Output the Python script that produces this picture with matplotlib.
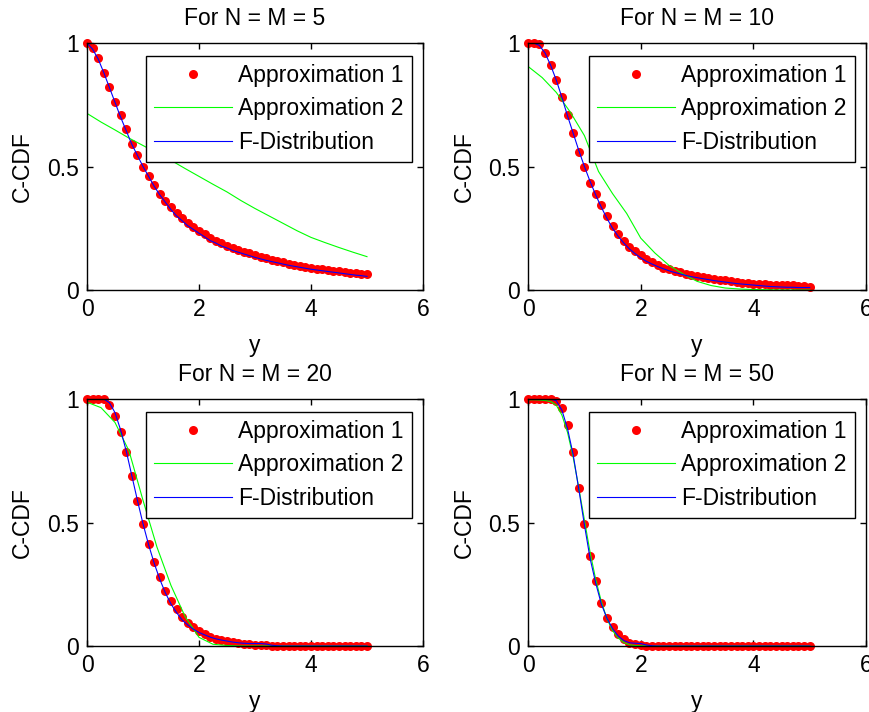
import numpy as np
import matplotlib
matplotlib.use('Agg')
import matplotlib.pyplot as plt

plt.rcParams['font.family'] = ['Liberation Sans', 'DejaVu Sans']
plt.rcParams['font.size'] = 16.5

# grids of y values (0 to 5)
y_fine = np.linspace(0, 5, 51)     # step 0.1
y_coarse = np.linspace(0, 5, 21)   # step 0.25

# ---- N = M = 5 ----
a1_5 = [1.0, 0.98, 0.94, 0.88, 0.82, 0.76, 0.71, 0.65, 0.59, 0.545,
        0.50, 0.46, 0.425, 0.39, 0.36, 0.335, 0.31, 0.29, 0.27, 0.255,
        0.24, 0.225, 0.21, 0.20, 0.19, 0.18, 0.17, 0.162, 0.155, 0.148,
        0.14, 0.134, 0.128, 0.122, 0.117, 0.112, 0.107, 0.102, 0.098, 0.094,
        0.09, 0.087, 0.084, 0.081, 0.078, 0.075, 0.072, 0.07, 0.068, 0.066, 0.063]
f_5 = [1.0, 0.975, 0.935, 0.88, 0.82, 0.76, 0.70, 0.645, 0.59, 0.545,
       0.50, 0.46, 0.42, 0.385, 0.355, 0.325, 0.30, 0.28, 0.26, 0.245,
       0.23, 0.215, 0.20, 0.19, 0.178, 0.17, 0.16, 0.153, 0.146, 0.139,
       0.132, 0.126, 0.12, 0.115, 0.11, 0.105, 0.10, 0.096, 0.092, 0.088,
       0.084, 0.081, 0.078, 0.075, 0.072, 0.069, 0.066, 0.063, 0.06, 0.058, 0.055]
g_5 = [0.715, 0.68, 0.648, 0.615, 0.585, 0.555, 0.525, 0.492, 0.46, 0.428,
       0.397, 0.362, 0.33, 0.30, 0.27, 0.24, 0.213, 0.192, 0.172, 0.153, 0.135]

# ---- N = M = 10 ----
a1_10 = [1.0, 1.0, 0.995, 0.96, 0.91, 0.85, 0.78, 0.71, 0.635, 0.56,
         0.497, 0.435, 0.39, 0.345, 0.30, 0.26, 0.227, 0.20, 0.175, 0.157,
         0.14, 0.126, 0.112, 0.10, 0.09, 0.083, 0.077, 0.071, 0.066, 0.061,
         0.056, 0.052, 0.048, 0.045, 0.042, 0.039, 0.036, 0.033, 0.03, 0.028,
         0.026, 0.024, 0.023, 0.022, 0.021, 0.02, 0.02, 0.019, 0.018, 0.017, 0.014]
f_10 = [1.0, 1.0, 0.99, 0.96, 0.91, 0.85, 0.78, 0.705, 0.635, 0.565,
        0.50, 0.44, 0.385, 0.335, 0.29, 0.25, 0.217, 0.19, 0.166, 0.147,
        0.13, 0.116, 0.105, 0.095, 0.086, 0.078, 0.071, 0.065, 0.059, 0.054,
        0.05, 0.046, 0.042, 0.038, 0.035, 0.032, 0.029, 0.026, 0.024, 0.022,
        0.02, 0.018, 0.016, 0.014, 0.013, 0.012, 0.011, 0.011, 0.01, 0.01, 0.01]
g_10 = [0.905, 0.86, 0.80, 0.72, 0.625, 0.48, 0.39, 0.31, 0.21, 0.15,
        0.10, 0.065, 0.035, 0.018, 0.008, 0.004, 0.002, 0.001, 0.0, 0.0, 0.0]

# ---- N = M = 20 ----
a1_20 = [1.0, 1.0, 1.0, 1.0, 0.976, 0.93, 0.865, 0.786, 0.69, 0.588,
         0.495, 0.413, 0.339, 0.278, 0.224, 0.183, 0.149, 0.119, 0.095, 0.075,
         0.06, 0.047, 0.038, 0.03, 0.024, 0.019, 0.015, 0.012, 0.009, 0.007,
         0.005, 0.004, 0.003, 0.002, 0.001, 0.001, 0.0, 0.0, 0.0, 0.0,
         0.0, 0.0, 0.0, 0.0, 0.0, 0.0, 0.0, 0.0, 0.0, 0.0, 0.0]
f_20 = [1.0, 1.0, 1.0, 1.0, 0.985, 0.945, 0.875, 0.79, 0.69, 0.59,
        0.495, 0.41, 0.335, 0.27, 0.215, 0.17, 0.135, 0.105, 0.085, 0.068,
        0.055, 0.045, 0.036, 0.029, 0.024, 0.02, 0.016, 0.013, 0.011, 0.01,
        0.01, 0.01, 0.008, 0.003, 0.001, 0.0, 0.0, 0.0, 0.0, 0.0,
        0.0, 0.0, 0.0, 0.0, 0.0, 0.0, 0.0, 0.0, 0.0, 0.0, 0.0]
g_20 = [0.987, 0.965, 0.905, 0.79, 0.59, 0.40, 0.245, 0.12, 0.035, 0.007,
        0.002, 0.0, 0.0, 0.0, 0.0, 0.0, 0.0, 0.0, 0.0, 0.0, 0.0]

# ---- N = M = 50 ----
a1_50 = [1.0, 1.0, 1.0, 1.0, 1.0, 0.99, 0.962, 0.894, 0.786, 0.64,
         0.495, 0.363, 0.262, 0.173, 0.115, 0.075, 0.047, 0.027, 0.014, 0.007,
         0.004, 0.002, 0.0, 0.0, 0.0, 0.0, 0.0, 0.0, 0.0, 0.0,
         0.0, 0.0, 0.0, 0.0, 0.0, 0.0, 0.0, 0.0, 0.0, 0.0,
         0.0, 0.0, 0.0, 0.0, 0.0, 0.0, 0.0, 0.0, 0.0, 0.0, 0.0]
f_50 = [1.0, 1.0, 1.0, 1.0, 1.0, 0.993, 0.955, 0.88, 0.775, 0.635,
        0.49, 0.355, 0.255, 0.17, 0.112, 0.07, 0.04, 0.022, 0.013, 0.011,
        0.01, 0.004, 0.001, 0.0, 0.0, 0.0, 0.0, 0.0, 0.0, 0.0,
        0.0, 0.0, 0.0, 0.0, 0.0, 0.0, 0.0, 0.0, 0.0, 0.0,
        0.0, 0.0, 0.0, 0.0, 0.0, 0.0, 0.0, 0.0, 0.0, 0.0, 0.0]
g_50 = [0.997, 0.997, 0.996, 0.994, 0.99, 0.975, 0.935, 0.865, 0.765, 0.64,
        0.51, 0.38, 0.27, 0.18, 0.11, 0.062, 0.032, 0.014, 0.005, 0.002,
        0.001, 0.0, 0.0, 0.0, 0.0, 0.0, 0.0, 0.0, 0.0, 0.0,
        0.0, 0.0, 0.0, 0.0, 0.0, 0.0, 0.0, 0.0, 0.0, 0.0,
        0.0, 0.0, 0.0, 0.0, 0.0, 0.0, 0.0, 0.0, 0.0, 0.0, 0.0]

titles = ['For N = M = 5', 'For N = M = 10', 'For N = M = 20', 'For N = M = 50']
paneles = [(a1_5, y_coarse, g_5, f_5),
           (a1_10, y_coarse, g_10, f_10),
           (a1_20, y_coarse, g_20, f_20),
           (a1_50, y_fine, g_50, f_50)]

# posiciones de los ejes (fraccion de la figura)
posiciones = [[0.100, 0.5927, 0.3862, 0.3469],
              [0.607, 0.5927, 0.3885, 0.3469],
              [0.100, 0.0927, 0.3862, 0.3469],
              [0.607, 0.0927, 0.3885, 0.3469]]

fig = plt.figure(figsize=(8.7, 7.12), dpi=100)

for pos, titulo, (a1, gx, g, f) in zip(posiciones, titles, paneles):
    ax = fig.add_axes(pos)
    ax.plot(y_fine, a1, 'o', color=(1, 0, 0), markersize=6.5, markeredgewidth=0,
            clip_on=False, label='Approximation 1')
    ax.plot(gx, g, '-', color=(0, 1, 0), lw=0.8, label='Approximation 2')
    ax.plot(y_fine, f, '-', color=(0, 0, 1), lw=0.8, label='F-Distribution')

    ax.set_xlim(0, 6)
    ax.set_ylim(0, 1)
    ax.set_xticks([0, 2, 4, 6])
    ax.set_xticklabels(['0', '2', '4', '6'])
    ax.set_yticks([0, 0.5, 1])
    ax.set_yticklabels(['0', '0.5', '1'])
    ax.tick_params(direction='in', top=True, right=True, length=4, width=1, pad=6)
    for s in ax.spines.values():
        s.set_linewidth(1.0)

    ax.set_xlabel('y', labelpad=9)
    ax.set_ylabel('C-CDF', labelpad=9)
    ax.set_title(titulo, pad=13, fontsize=16.5)

    leg = ax.legend(loc='upper right', bbox_to_anchor=(0.967, 0.947),
                    borderaxespad=0, fancybox=False, shadow=False,
                    edgecolor='black', framealpha=1, numpoints=1,
                    handlelength=3.4, handletextpad=0.3, labelspacing=0.45,
                    borderpad=0.35)
    leg.get_frame().set_linewidth(1.0)

fig.savefig('out.png', dpi=100)
